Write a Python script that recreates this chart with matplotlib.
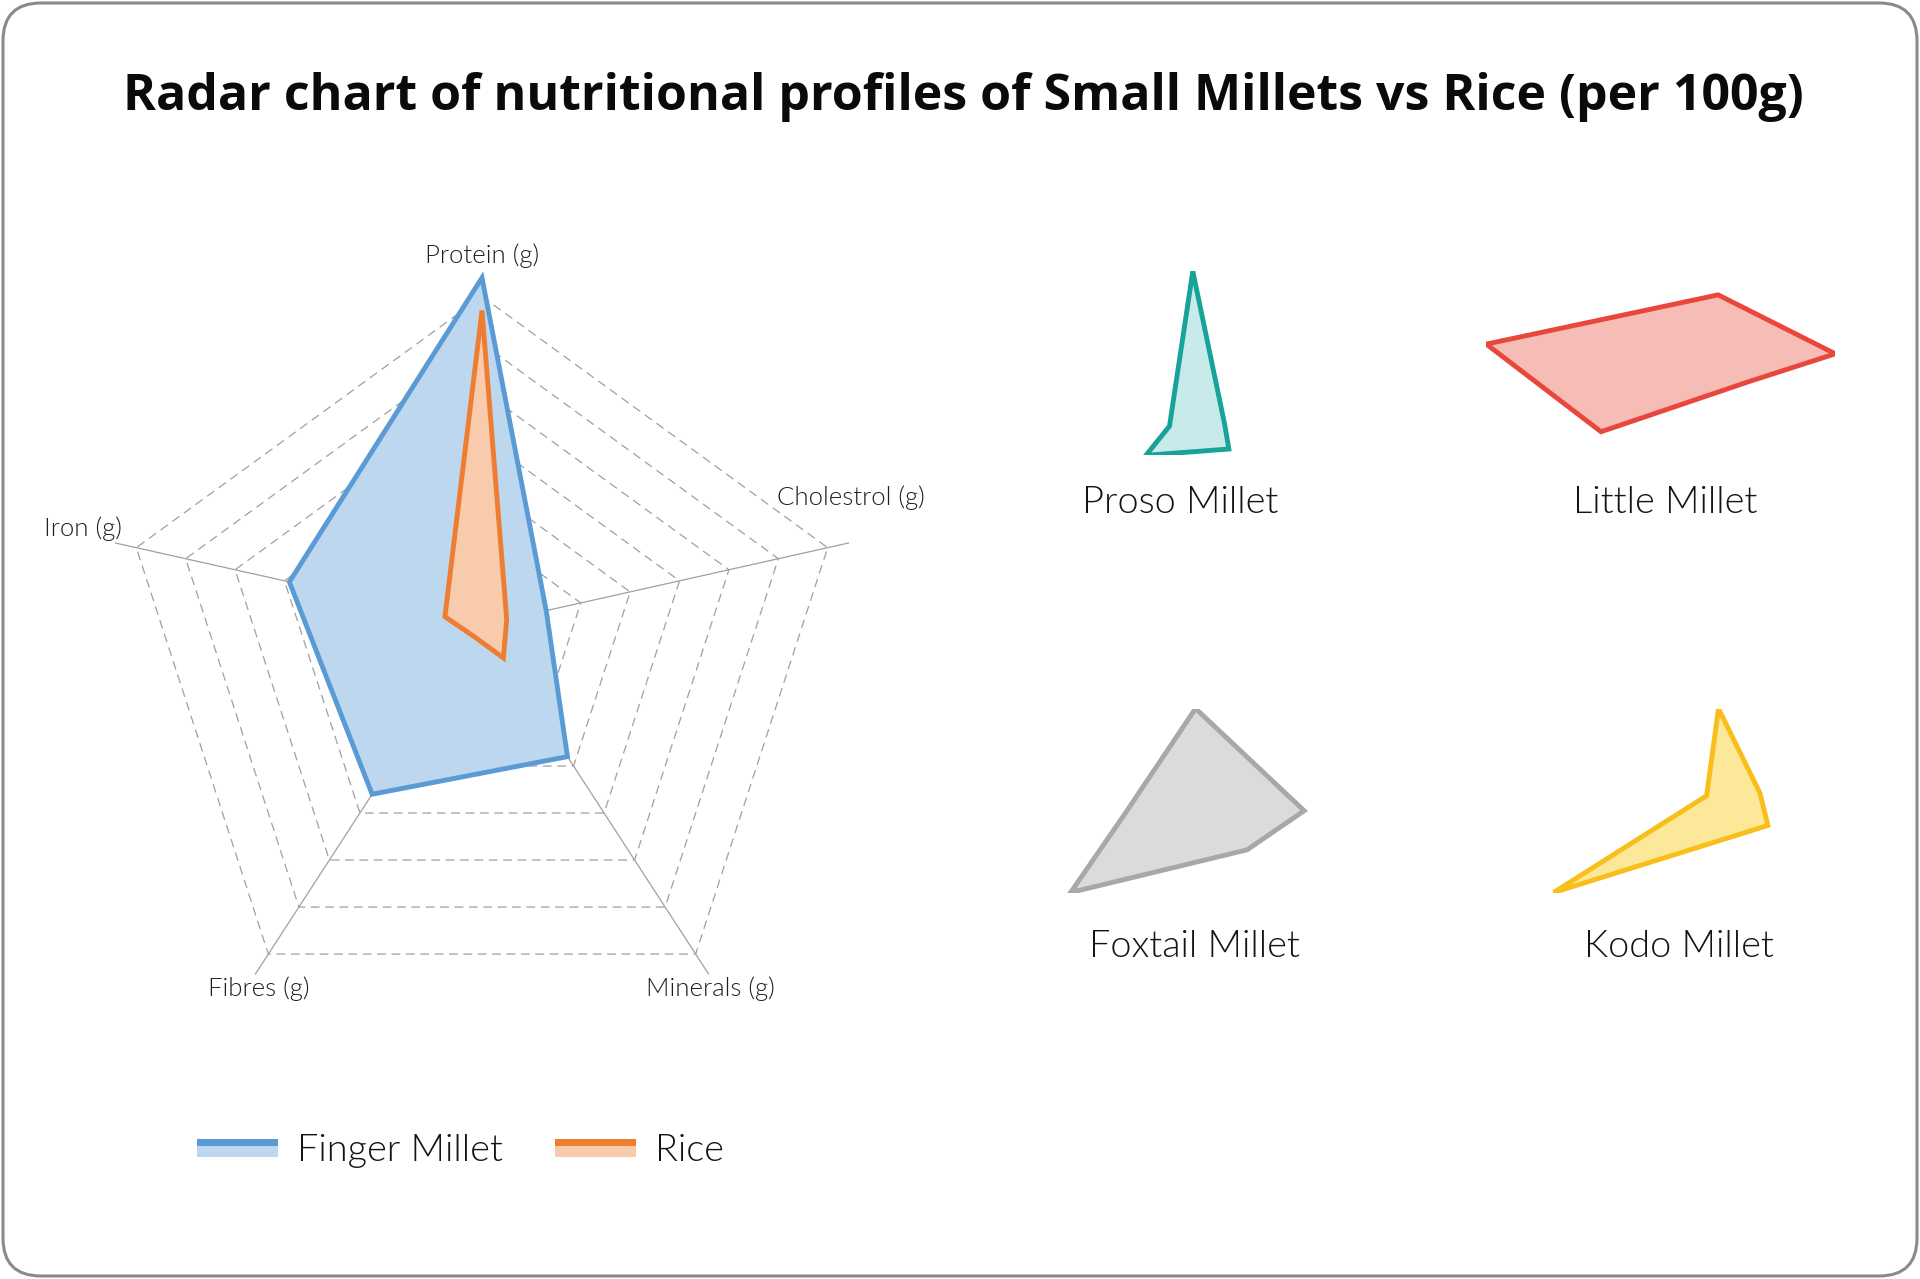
import numpy as np
import matplotlib
matplotlib.use("Agg")
import matplotlib.pyplot as plt
from matplotlib.patches import Polygon, FancyBboxPatch, Rectangle

# ---------------- data ----------------
axis_labels = ["Protein (g)", "Cholestrol (g)", "Minerals (g)", "Fibres (g)", "Iron (g)"]
finger_millet = [7.4, 1.3, 2.8, 3.6, 3.9]
rice = [6.7, 0.5, 0.7, 0.25, 0.75]
proso_millet = [15.0, 1.1, 2.0, 2.6, 0.8]
little_millet = [7.7, 4.7, 2.0, 7.6, 9.3]
foxtail_millet = [12.3, 4.3, 3.3, 8.0, 2.8]
kodo_millet = [8.3, 1.4, 2.7, 9.0, 0.4]
levels = 7
max_value = 7.0

small_names = ["Proso Millet", "Little Millet", "Foxtail Millet", "Kodo Millet"]
small_values = [proso_millet, little_millet, foxtail_millet, kodo_millet]

# ---------------- style ----------------
W, H = 1920, 1279
fig = plt.figure(figsize=(W / 100, H / 100), dpi=100)
fig.patch.set_facecolor("white")

LIGHT = dict(family=["Lato", "DejaVu Sans"], fontweight=300)
GRID_C = "#a0a0a0"

# radar geometry (in units of outer radius)
theta = np.deg2rad([90, 18, -54, -126, 162])
ring_offset = -35.0 / 363.5
VX = np.cos(theta)
VY = np.sin(theta) + ring_offset


def radar_xy(values, yscale=1.0):
    f = np.asarray(values, dtype=float) / max_value
    return f * VX, f * VY * yscale


def px_axes(left, top, width, height):
    return fig.add_axes([left / W, 1 - (top + height) / H, width / W, height / H])


# background axes in pixel space for frame / legend
bg = fig.add_axes([0, 0, 1, 1], zorder=-5)
bg.set_xlim(0, W)
bg.set_ylim(H, 0)
bg.axis("off")
bg.add_patch(FancyBboxPatch((3, 3), W - 6, H - 6,
                            boxstyle="round,pad=0,rounding_size=38",
                            fc="white", ec="#8a8a8a", lw=2.2))

# title
fig.text(963.5 / W, 1 - 110.5 / H,
         "Radar chart of nutritional profiles of Small Millets vs Rice (per 100g)",
         ha="center", va="baseline", fontsize=36, fontweight="bold",
         family=["Open Sans", "DejaVu Sans"], color="#0a0a0a")

# ---------------- main radar ----------------
S = 363.5
cx, cy = 482.0, 625.0
xl, yl = 1.3, 1.1
ax = px_axes(cx - xl * S, cy - yl * S, 2 * xl * S, 2 * yl * S)
ax.set_xlim(-xl, xl)
ax.set_ylim(-yl, yl)
ax.axis("off")

for k in range(1, levels + 1):
    f = k / levels
    xs = np.append(f * VX, f * VX[0])
    ys = np.append(f * VY, f * VY[0])
    ax.plot(xs, ys, color=GRID_C, lw=0.9, dashes=(7.0, 4.5), zorder=1)
for i in range(5):
    ax.plot([0, 1.06 * VX[i]], [0, 1.06 * VY[i]], color=GRID_C, lw=0.9, zorder=1)

series = [(finger_millet, "#5B9BD5", "#BDD7EE"), (rice, "#ED7D31", "#F8CBAD")]
for z, (vals, ec, fc) in enumerate(series):
    x, y = radar_xy(vals)
    ax.add_patch(Polygon(np.column_stack([x, y]), closed=True, fc=fc, ec=ec,
                         lw=3.5, joinstyle="miter", zorder=3 + z))

label_pos = [(0.0, 1.016), (1.016, 0.350), (0.629, -1.001), (-0.615, -1.001), (-1.097, 0.264)]
for (lx, ly), txt in zip(label_pos, axis_labels):
    ax.text(lx, ly, txt, ha="center", va="center", fontsize=18.5, color="#1f1f1f",
            clip_on=False, **LIGHT)

# legend
legend_items = [("Finger Millet", "#5B9BD5", "#BDD7EE", 197, 297),
                ("Rice", "#ED7D31", "#F8CBAD", 555, 655)]
for name, ec, fc, sx0, tx in legend_items:
    bg.add_patch(Rectangle((sx0, 1139), 81, 6.5, fc=ec, ec="none"))
    bg.add_patch(Rectangle((sx0, 1145.5), 81, 11.5, fc=fc, ec="none"))
    bg.text(tx, 1161, name, ha="left", va="baseline", fontsize=27.3,
            color="#141414", **LIGHT)

# ---------------- small multiples ----------------
small_colors = [("#16A399", "#C9EAEA"), ("#E9473D", "#F5BDB5"),
                ("#A8A8A8", "#DBDBDB"), ("#F9BE1A", "#FBE898")]
box_centers = [(1187.4, 363.3), (1660.8, 363.3), (1187.4, 800.5), (1660.8, 800.5)]
label_centers = [(1180.1, 513.4), (1665.3, 513.4), (1194.9, 956.8), (1678.5, 956.8)]
box_w, box_h = 349, 184
aniso = 1 / 2.65

for vals, (ec, fc), (bx, by), (lx, ly), name in zip(small_values, small_colors,
                                                    box_centers, label_centers, small_names):
    sa = px_axes(bx - box_w / 2, by - box_h / 2, box_w, box_h)
    x, y = radar_xy(vals, aniso)
    sa.add_patch(Polygon(np.column_stack([x, y]), closed=True, fc=fc, ec=ec,
                         lw=3.5, joinstyle="miter"))
    sa.set_xlim(x.min(), x.max())
    sa.set_ylim(y.min(), y.max())
    sa.set_aspect("equal", adjustable="datalim", anchor="C")
    sa.axis("off")
    bg.text(lx, ly, name, ha="center", va="baseline", fontsize=27.3,
            color="#141414", **LIGHT)

fig.savefig("out.png", dpi=100, facecolor="white")
